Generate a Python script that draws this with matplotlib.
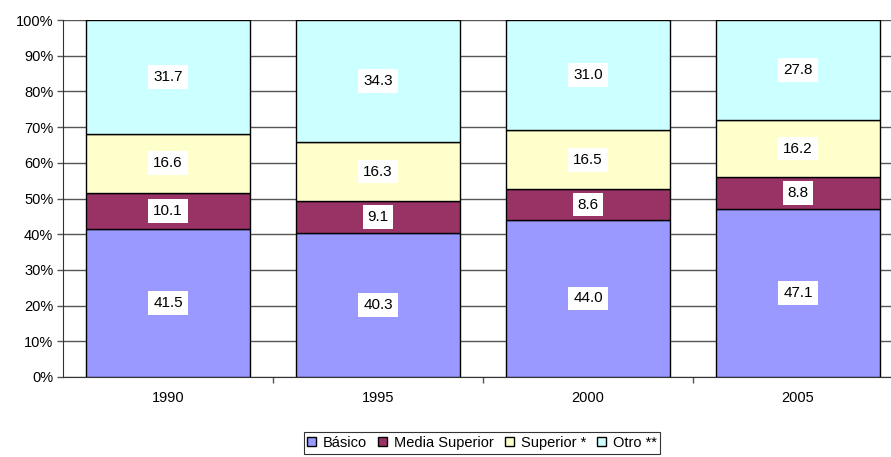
import matplotlib.pyplot as plt
import numpy as np

plt.rcParams['font.family'] = ['Liberation Sans', 'DejaVu Sans']

# datos
years = ['1990', '1995', '2000', '2005']
basico = [41.5, 40.3, 44.0, 47.1]
media_sup = [10.1, 9.1, 8.6, 8.8]
superior = [16.6, 16.3, 16.5, 16.2]
otro = [31.7, 34.3, 31.0, 27.8]

series = [basico, media_sup, superior, otro]
names = ['Básico', 'Media Superior', 'Superior *', 'Otro **']
colors = ['#9999FF', '#993366', '#FFFFCC', '#CCFFFF']

fig = plt.figure(figsize=(8.91, 4.57), dpi=100)
ax = fig.add_axes([63/891, 80/457, 840/891, 357/457])

x = np.arange(len(years))
bottom = np.zeros(len(years))
for vals, name, c in zip(series, names, colors):
    vals = np.array(vals)
    ax.bar(x, vals, 0.78, bottom=bottom, color=c, edgecolor='black',
           linewidth=1, label=name, zorder=3)
    for xi, b, v in zip(x, bottom, vals):
        ax.text(xi, b + v / 2, f'{v:.1f}', ha='center', va='center',
                fontsize=11, zorder=4,
                bbox=dict(facecolor='white', edgecolor='none', pad=3.5))
    bottom += vals

ax.set_xlim(-0.5, 3.5)
ax.set_ylim(0, 100)
ax.set_yticks(np.arange(0, 101, 10))
ax.set_yticklabels([f'{v}%' for v in range(0, 101, 10)], fontsize=10.5)
ax.yaxis.grid(True, color='#555555', linewidth=1, zorder=0)
ax.tick_params(axis='y', length=4, width=1, color='#555555', pad=3)

ax.set_xticks(x)
ax.set_xticklabels(years, fontsize=10.5)
ax.tick_params(axis='x', length=0, pad=10)
ax.set_xticks(np.arange(0.5, 3.5, 1), minor=True)
ax.tick_params(axis='x', which='minor', length=4, width=1, color='#555555')

for s in ['top', 'right']:
    ax.spines[s].set_visible(False)
ax.spines['left'].set_color('#333333')
ax.spines['bottom'].set_color('#333333')

leg = fig.legend(loc='center', bbox_to_anchor=(482/891, 1 - 443/457), ncol=4,
                 fontsize=10.5, frameon=True, fancybox=False, handlelength=0.6,
                 handleheight=0.6, handletextpad=0.45, columnspacing=0.8,
                 borderpad=0.25)
leg.get_frame().set_edgecolor('black')
leg.get_frame().set_linewidth(0.8)

fig.savefig('out.png', dpi=100)
